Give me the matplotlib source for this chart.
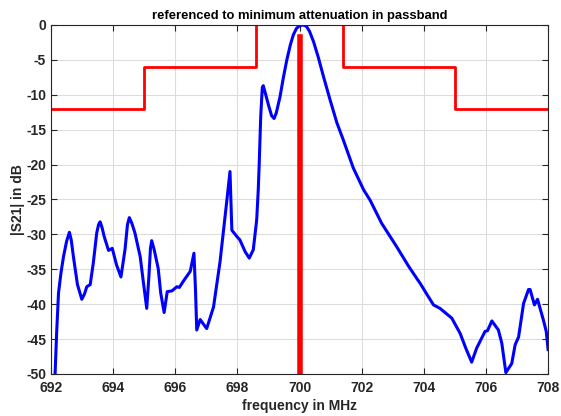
import matplotlib
matplotlib.use("Agg")
import matplotlib.pyplot as plt

plt.rcParams['font.family'] = ['Liberation Sans', 'DejaVu Sans']
plt.rcParams['font.weight'] = 'bold'
plt.rcParams['axes.unicode_minus'] = False

# measured |S21| (blue)
freq = [692.10, 692.13, 692.18, 692.24, 692.32, 692.40, 692.50, 692.59, 692.65, 692.72,
        692.85, 692.99, 693.08, 693.15, 693.26, 693.36, 693.47, 693.53, 693.58, 693.64,
        693.71, 693.85, 693.97, 694.11, 694.25, 694.38, 694.46, 694.52, 694.60, 694.70,
        694.87, 694.97, 695.08, 695.15, 695.20, 695.24, 695.32, 695.45, 695.53, 695.64,
        695.74, 695.89, 696.05, 696.13, 696.26, 696.48, 696.60, 696.65, 696.69, 696.80,
        697.01, 697.23, 697.44, 697.66, 697.76, 697.82, 697.98, 698.08, 698.25, 698.38,
        698.51, 698.62, 698.67, 698.70, 698.75, 698.80, 698.83, 698.90, 699.00, 699.10,
        699.18, 699.25, 699.37, 699.48, 699.59, 699.70, 699.80, 699.90, 700.00, 700.12,
        700.22, 700.32, 700.45, 700.60, 700.77, 700.98, 701.20, 701.41, 701.73, 702.06,
        702.27, 702.64, 703.13, 703.50, 703.77, 703.88, 704.10, 704.31, 704.52, 704.90,
        705.17, 705.35, 705.54, 705.70, 705.97, 706.05, 706.19, 706.40, 706.51, 706.64,
        706.83, 706.94, 707.05, 707.21, 707.37, 707.42, 707.56, 707.66, 707.85, 707.94,
        708.00]
s21 = [-50.5, -50.0, -44.1, -38.4, -35.5, -33.2, -31.0, -29.7, -30.8, -33.2,
       -37.2, -39.3, -38.5, -37.5, -37.2, -34.1, -29.8, -28.6, -28.2, -29.0,
       -30.3, -32.3, -32.0, -34.4, -36.1, -32.2, -28.6, -27.6, -28.4, -29.8,
       -33.2, -36.8, -40.6, -36.0, -32.0, -30.9, -32.2, -34.9, -38.4, -41.2,
       -38.2, -38.1, -37.5, -37.6, -36.7, -35.3, -32.7, -38.0, -43.7, -42.2,
       -43.5, -40.4, -33.9, -25.1, -21.0, -29.4, -30.3, -30.8, -32.5, -33.4,
       -32.2, -27.9, -23.6, -20.0, -13.0, -9.0, -8.7, -9.8, -11.5, -13.0,
       -13.4, -12.6, -10.3, -7.5, -5.0, -2.9, -1.4, -0.5, -0.1, 0.0,
       -0.2, -0.9, -2.4, -4.6, -7.4, -10.7, -14.0, -16.5, -20.5, -23.6,
       -25.1, -28.4, -31.8, -34.5, -36.3, -37.0, -38.6, -40.1, -40.6, -42.0,
       -44.2, -46.3, -48.3, -46.3, -43.9, -43.8, -42.4, -43.7, -45.6, -49.8,
       -48.5, -45.8, -44.7, -39.9, -37.9, -37.9, -40.1, -39.3, -42.3, -43.9,
       -46.5]

# tolerance mask (red), passband part runs off the top of the plot
mask_f = [692, 695, 695, 698.6, 698.6, 701.4, 701.4, 705, 705, 708]
mask_db = [-12, -12, -6, -6, 5, 5, -6, -6, -12, -12]

# centre frequency marker
center_f = 700
center_top = -1.7

fig = plt.figure(figsize=(5.61, 4.16), dpi=100)
ax = fig.add_axes([0.091, 0.101, 0.886, 0.839])

ax.plot(mask_f, mask_db, color='red', lw=2.0)
ax.plot(freq, s21, color='blue', lw=2.2, solid_joinstyle='round')
ax.plot([center_f, center_f], [-50, center_top], color='red', lw=4.0)

ax.set_xlim(692, 708)
ax.set_ylim(-50, 0)
ax.set_xticks(range(692, 709, 2))
ax.set_yticks(range(-50, 1, 5))
ax.grid(True, color='#dcdcdc', lw=0.8)
ax.tick_params(direction='in', top=True, right=True, labelsize=10, colors='#262626', length=4)
ax.tick_params(axis='x', pad=5)
for s in ax.spines.values():
    s.set_color('#262626')
    s.set_linewidth(0.8)

ax.set_xlabel('frequency in MHz', fontsize=10, fontweight='bold', color='#262626', labelpad=3)
ax.set_ylabel('|S21| in dB', fontsize=10, fontweight='bold', color='#262626', labelpad=1)
ax.set_title('referenced to minimum attenuation in passband', fontsize=9.4, fontweight='bold', pad=4)

fig.savefig('out.png', dpi=100)
